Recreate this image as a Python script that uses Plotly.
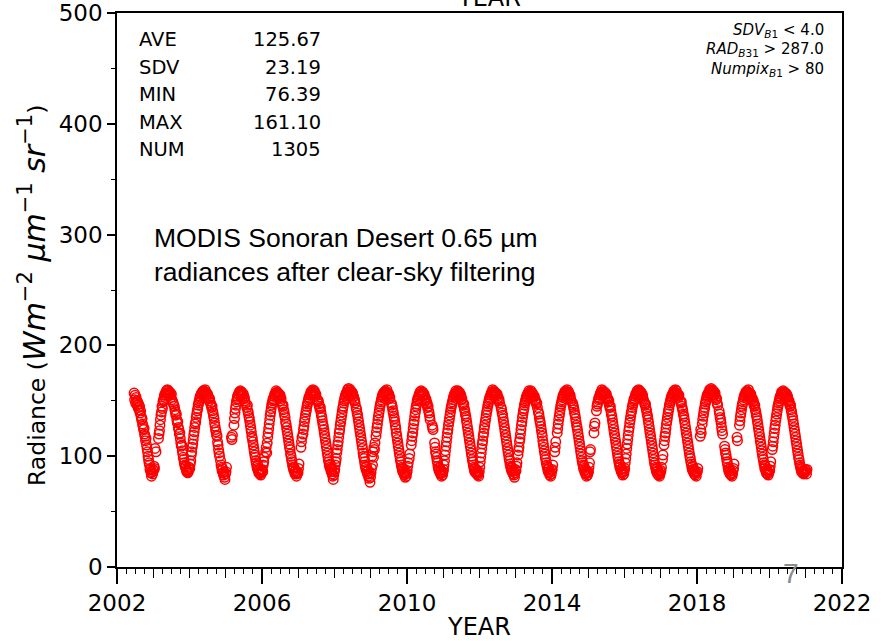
import plotly.graph_objects as go

# Day-of-year of each clear-sky overpass sample (one sample slot every 5 days)
DOY = [3, 8, 13, 18, 23, 28, 33, 38, 43, 48, 53, 58, 63, 68, 73,
       78, 83, 88, 93, 98, 103, 108, 113, 118, 123, 128, 133, 138, 143, 148,
       153, 158, 163, 168, 173, 178, 183, 188, 193, 198, 203, 208, 213, 218, 223,
       228, 233, 238, 243, 248, 253, 258, 263, 268, 273, 278, 283, 288, 293, 298,
       303, 308, 313, 318, 323, 328, 333, 338, 343, 348, 353, 358, 363]

# Band-1 radiances per year (None = no clear-sky sample in that slot)
RAD_2002 = [None] * 34 + [
    157, 151, 155, 148, 153, 150, 146, 149, 144, 147, 142, 145, 139, 141, 136,
    133, 134, 129, 127, 124, 125, 120, 118, 114, 116, 110, 107, 104, 100, 97,
    94, 92, 88, 89, 85, 82, 86, 84, 88]
RAD_2003 = [
    87, 91, 89, 107, None, 104, None, None, None, None, 116, 120, 123, 128, 133,
    137, 140, 145, 143, 149, 151, 150, 155, 153, 157, 155, 159, 156, 160, 157,
    159, 156, 158, 155, 157, 153, 156, 151, None, 149, 147, None, 145, 142, 140,
    137, 138, 133, 130, 131, 126, 124, 120, 121, 116, 112, 109, 110, 105, 102,
    99, 97, 94, 92, 90, 91, 88, 86, 87, 85, 86, 88, 90]
RAD_2004 = [
    89, 93, 96, 101, 104, 108, 111, 115, 119, 122, 126, 129, 131, 135, 138,
    141, 143, 146, 148, 150, 152, 154, 153, 156, 157, 155, 158, 159, 156, 159,
    157, 160, 158, 155, 157, 154, 156, None, 153, 150, 152, None, 148, 146, 144,
    145, 141, 139, 136, 134, 130, 127, 124, 122, 119, 118, 113, 110, 106, 103,
    100, None, 96, 92, 90, 87, 89, 85, 83, 86, 81, 79, 84]
RAD_2005 = [
    86, 90, None, None, None, None, None, None, None, None, None, 117, 115, 119, None,
    None, 128, 134, 139, 143, 146, 149, 151, 154, 152, 156, 155, 158, 157, 159,
    156, 158, 155, 157, 154, 156, 152, 153, 150, 148, None, None, 144, 146, 141,
    139, 136, 134, 131, 128, 125, 122, 118, 116, 113, 110, 107, 104, 101, 99,
    96, 94, 91, 89, 92, 87, 85, 88, 84, 86, 83, 85, 87]
RAD_2006 = [
    88, 86, 92, 95, 99, None, None, 104, 108, 103, 112, 117, 121, 125, 129,
    133, 137, 140, 143, 146, 148, 150, 152, 151, 154, 156, 155, 157, 159, 156,
    158, 155, 157, 154, 156, 153, 155, 150, 152, None, 147, 145, 146, 142, 140,
    137, 135, 131, 129, 126, 123, 120, 117, 114, 111, 108, 106, 102, 100, 97,
    95, 92, 90, 88, 90, 86, 84, 87, 85, 82, 84, 86, 85]
RAD_2007 = [
    89, 93, None, None, None, 108, 113, 117, None, 120, 124, 127, 131, 134, 137,
    140, 142, 145, 147, 149, 151, 153, 152, 155, 156, 158, 156, 159, 157, 160,
    158, 156, 159, 156, 154, 156, None, None, 151, 149, 150, 147, 145, 143, 144,
    140, 137, 135, 132, 129, 127, 124, 121, 118, 115, 112, 109, 106, 103, 100,
    97, 95, 92, 90, 93, 88, 86, 89, 84, 82, 79, 83, 86]
RAD_2008 = [
    88, 92, 95, 98, 103, 106, 110, 113, 117, 121, 124, 128, 131, 134, 137,
    140, 143, 145, 148, 150, 152, 154, 155, 157, 156, 158, 160, 157, 161.1, 159,
    157, 160, 158, 156, 158, 155, 157, 153, 154, 150, 151, 148, None, 144, 142,
    139, 137, 134, 131, 128, 125, 122, 119, 116, 113, 110, 107, 103, 100, 98,
    95, 92, 90, 88, 91, 86, 84, 87, 82, 80, 84, 76.39, 81]
RAD_2009 = [
    85, 89, 100, 92, 104, 99, 108, 106, 112, None, 118, 122, 126, 129, 133,
    136, 139, 142, 145, 147, 149, 151, 153, 155, 154, 157, 156, 158, 157, 159,
    156, 158, 160, 155, 157, 154, 156, 152, 153, None, None, 148, 146, 144, 141,
    139, 136, 134, 131, 128, 125, 121, 118, 115, 112, 109, 106, 103, 100, 97,
    95, 92, 90, 88, 86, 89, 85, 83, 86, 81, 84, 82, 85]
RAD_2010 = [
    87, 91, 94, None, 98, 102, None, None, 110, 114, 118, 121, 125, 129, 132,
    136, 139, 142, 145, 147, 150, 152, 151, 154, 156, 155, 158, 156, 159, 157,
    155, 158, 156, 154, 156, 152, 153, 150, 151, 147, 148, 144, 145, 141, 139,
    136, 133, None, None, None, 128, 126, 124, None, None, 112, 108, 104, 102, 99,
    96, 94, 91, 89, 87, 90, 85, 84, 87, 82, 85, 83, 86]
RAD_2011 = [
    88, 92, 96, 101, 105, 109, 113, 117, 121, 124, 128, 131, 134, 137, 140,
    143, 145, 147, 149, 151, 153, 154, 156, 155, 157, 159, 156, 158, 157, 159,
    156, 158, 155, 157, 153, 155, 151, 152, None, 148, 146, 147, 143, 141, 138,
    136, 133, 130, 127, 124, 121, 118, 115, 112, 109, 106, 103, 100, 97, 95,
    92, 90, 88, 86, 89, 85, 87, 84, 86, 83, 85, 82, 86]
RAD_2012 = [
    90, 95, 99, 103, 107, 111, 114, 118, 121, 125, 128, 131, 134, 137, 140,
    142, 145, 147, 149, 151, 153, 152, 155, 157, 156, 158, 160, 157, 159, 156,
    158, 157, 155, 157, 154, 156, 152, 153, 150, 151, 148, None, None, 144, 142,
    139, 137, 134, 131, 128, 125, 122, 119, 116, 113, 110, 107, 104, 101, 98,
    96, 93, 91, 89, 87, 90, 86, 84, 87, 83, 81, 85, 88]
RAD_2013 = [
    87, 91, 94, None, 101, 105, 108, 113, 116, 120, 124, 128, 131, 135, 138,
    141, 143, 146, 148, 150, 152, 154, 153, 156, 155, 157, 159, 157, 158, 156,
    159, 157, 155, 157, 154, 155, 153, 154, 150, 151, 149, 147, 148, 144, None,
    140, 138, 135, 132, 130, 127, 124, 121, 118, 114, 111, 108, 105, 102, 99,
    97, 94, 92, 90, 88, 86, 89, 85, 83, 86, 82, 84, 87]
RAD_2014 = [
    88, 92, None, None, None, 104, 108, 113, None, None, 121, 125, 129, 133, 136,
    139, 142, 145, 147, 149, 151, 153, 155, 154, 156, 158, 157, 159, 156, 158,
    160, 157, 156, 158, 155, 153, 155, 152, 150, None, None, 148, 146, 144, 142,
    139, 137, 134, 131, 128, 126, 123, 120, 117, 114, 111, 108, 105, 102, 99,
    96, 94, 92, 89, 91, 87, 85, 88, 84, 82, 86, 83, 85]
RAD_2015 = [
    86, 90, 94, 104, 106, None, None, None, None, None, None, 121, 127, 130, None,
    None, 141, 145, 147, 149, 151, 153, 152, 155, 157, 156, 158, 160, 157, 159,
    157, 155, 158, 156, 157, 154, 156, 153, 151, 152, 149, 150, 146, 144, 145,
    141, 138, 136, 133, 130, 127, 124, 121, 118, 115, 112, 109, 106, 103, 100,
    98, 95, 93, 90, 92, 88, 86, 89, 85, 83, 86, 84, 87]
RAD_2016 = [
    89, 94, 98, 102, 107, 111, 115, 119, 123, 126, 130, 133, 136, 139, 141,
    144, 146, 148, 150, 152, 151, 154, 156, 155, 157, 159, 156, 158, 160, 157,
    159, 156, 158, 155, 157, 153, 155, 152, 150, None, 148, 146, 147, 143, 141,
    138, 136, 133, 130, 127, 124, 121, 118, 115, 112, 109, 106, 103, 100, 97,
    94, 92, 90, 88, 86, 89, 84, 87, 83, 85, 82, 84, 86]
RAD_2017 = [
    87, 90, None, 97, 101, None, 110, 114, 118, 121, 125, 129, 132, 135, 138,
    141, 143, 146, 148, 150, 152, 154, 153, 156, 155, 157, 159, 156, 158, 160,
    157, 159, 156, 154, 156, 153, 155, None, None, 150, 148, 149, 145, 143, 141,
    138, 136, 133, 130, 127, 124, 121, 118, 115, 112, 109, 106, 103, 100, 98,
    95, 93, 90, 88, 91, 86, 88, 84, 86, 83, 85, 82, 86]
RAD_2018 = [
    86, 89, None, None, None, None, 118, 124, 121, None, 129, 133, 136, 139, 142,
    144, 147, 149, 151, 153, 155, 154, 157, 156, 158, 160, 157, 159, 161, 158,
    160, 157, 159, 156, 158, 155, 157, 153, 151, 152, 148, 146, None, None, 141,
    138, 135, 133, 130, 126, 123, 120, None, None, None, 109, 106, 103, 101, 98,
    95, 93, 90, 88, 86, 89, 84, 87, 83, 85, 82, 84, 87]
RAD_2019 = [
    89, 93, None, None, None, None, None, 117, 114, None, None, None, 128, 132, 136,
    139, 142, 145, 147, 149, 151, 153, 155, 154, 156, 158, 157, 159, 156, 158,
    160, 157, 155, 157, 154, 156, 153, 151, 152, 149, 150, 147, 145, 146, 142,
    140, 137, 135, 132, 129, 126, 123, 120, 117, 114, 111, 108, 105, 102, 99,
    97, 94, 92, 89, 91, 87, 85, 88, 84, 86, 83, 85, 88]
RAD_2020 = [
    87, 91, 95, None, None, 106, 109, 113, 117, 121, 125, 128, 132, 135, 138,
    141, 144, 146, 148, 150, 152, 154, 153, 156, 158, 155, 157, 159, 156, 158,
    157, 155, 157, 154, 156, 152, 154, 151, 149, 150, 147, 145, 146, 142, 140,
    137, 135, 132, 129, 126, 123, 120, 117, 114, 111, 108, 105, 102, 99, 97,
    94, 92, 90, 88, 86, 89, 85, 87, 84, 86, 85, 88, 86]
RAD_2021 = [87, 84, 88]

YEARS = list(range(2002, 2022))
RADIANCE_BY_YEAR = [RAD_2002, RAD_2003, RAD_2004, RAD_2005, RAD_2006, RAD_2007,
                    RAD_2008, RAD_2009, RAD_2010, RAD_2011, RAD_2012, RAD_2013,
                    RAD_2014, RAD_2015, RAD_2016, RAD_2017, RAD_2018, RAD_2019,
                    RAD_2020, RAD_2021]

STAT_NAMES = ["AVE", "SDV", "MIN", "MAX", "NUM"]
STAT_VALUES = ["125.67", "23.19", "76.39", "161.10", "1305"]

FILTER_LINES = [
    "<i>SDV</i><sub><i>B</i>1</sub> &lt; 4.0",
    "<i>RAD</i><sub><i>B</i>31</sub> &gt; 287.0",
    "<i>Numpix</i><sub><i>B</i>1</sub> &gt; 80",
]

# decimal-year time axis
dec_year, radiance = [], []
for yr, vals in zip(YEARS, RADIANCE_BY_YEAR):
    for d, v in zip(DOY, vals):
        if v is not None:
            dec_year.append(yr + (d - 0.5) / 365.0)
            radiance.append(v)

fig = go.Figure()
fig.add_trace(go.Scatter(
    x=dec_year, y=radiance, mode="markers",
    marker=dict(symbol="circle-open", size=9.5, color="#ff0000",
                line=dict(width=1.5, color="#ff0000")),
    showlegend=False, hoverinfo="skip"))
# carrier for the yearly tick axis
fig.add_trace(go.Scatter(x=[2002], y=[0], xaxis="x2", mode="markers",
                         marker=dict(opacity=0), showlegend=False, hoverinfo="skip"))

L, R, T, B = 117, 47, 13, 74
MATH = '<span style="font-size:30px">'
ytitle = ("Radiance (" + MATH + "<i>Wm</i><sup>−2</sup> <i>μm</i><sup>−1</sup> "
          "<i>sr</i><sup>−1</sup></span>)")

fig.update_layout(
    width=889, height=641,
    margin=dict(l=L, r=R, t=T, b=B, autoexpand=False),
    paper_bgcolor="white", plot_bgcolor="white",
    font=dict(family="DejaVu Sans", color="black"),
    xaxis=dict(
        range=[2002, 2022], tickmode="linear", tick0=2002, dtick=4,
        ticks="outside", ticklen=15, tickwidth=1.5, tickcolor="black",
        showline=True, linecolor="black", linewidth=1.5, mirror=True,
        showgrid=False, zeroline=False, tickfont=dict(size=23), automargin=False,
        minor=dict(tick0=2002, dtick=0.25, ticks="outside", ticklen=5,
                   tickwidth=1.2, tickcolor="black", showgrid=False),
        title=dict(text="YEAR", font=dict(size=24), standoff=6),
    ),
    xaxis2=dict(
        overlaying="x", anchor="y", side="bottom", range=[2002, 2022],
        tickmode="linear", tick0=2002, dtick=1, ticks="outside", ticklen=10,
        tickwidth=1.3, tickcolor="black", showticklabels=False, automargin=False,
        showgrid=False, zeroline=False, showline=False,
    ),
    yaxis=dict(
        range=[0, 500], tickmode="linear", tick0=0, dtick=100,
        ticks="outside", ticklen=8, tickwidth=1.5, tickcolor="black",
        showline=True, linecolor="black", linewidth=1.5, mirror=True,
        showgrid=False, zeroline=False, tickfont=dict(size=23), automargin=False,
        minor=dict(tick0=0, dtick=50, ticks="outside", ticklen=4,
                   tickwidth=1.2, tickcolor="black", showgrid=False),
    ),
)

W_PLOT = 889 - L - R
H_PLOT = 641 - T - B


def px_x(x):
    return (x - L) / W_PLOT


def px_y(y):
    return (641 - B - y) / H_PLOT


ann = []
stat_y = [39.5, 67, 94.5, 122.5, 150]
for name, val, yy in zip(STAT_NAMES, STAT_VALUES, stat_y):
    ann.append(dict(text=name, x=px_x(136.7), y=px_y(yy), xanchor="left",
                    yanchor="middle", font=dict(size=19.5)))
    ann.append(dict(text=val, x=px_x(322.7), y=px_y(yy), xanchor="right",
                    yanchor="middle", font=dict(size=19.5)))

for line, yy in zip(FILTER_LINES, [30.5, 49.7, 69]):
    ann.append(dict(text=line, x=px_x(825.7), y=px_y(yy), xanchor="right",
                    yanchor="middle", font=dict(size=15)))

ann.append(dict(text="MODIS Sonoran Desert 0.65 µm<br>radiances after clear-sky filtering",
                x=px_x(151.7), y=px_y(255), xanchor="left", yanchor="middle",
                align="left", font=dict(family="Liberation Sans, Arial", size=26.5)))

# rotated y-axis title
ann.append(dict(text=ytitle, x=px_x(33), y=px_y(296), xanchor="center",
                yanchor="middle", textangle=-90, font=dict(size=23.5)))

ann.append(dict(text="YEAR", x=px_x(489), y=px_y(14), xanchor="center",
                yanchor="bottom", font=dict(size=24)))

ann.append(dict(text="7", x=px_x(791), y=px_y(573), xanchor="center",
                yanchor="middle", font=dict(family="Liberation Sans, Arial",
                                            size=28, color="#8c8c8c")))

for a in ann:
    a.update(xref="paper", yref="paper", showarrow=False)
fig.update_layout(annotations=ann)

fig.write_html("out.html")
